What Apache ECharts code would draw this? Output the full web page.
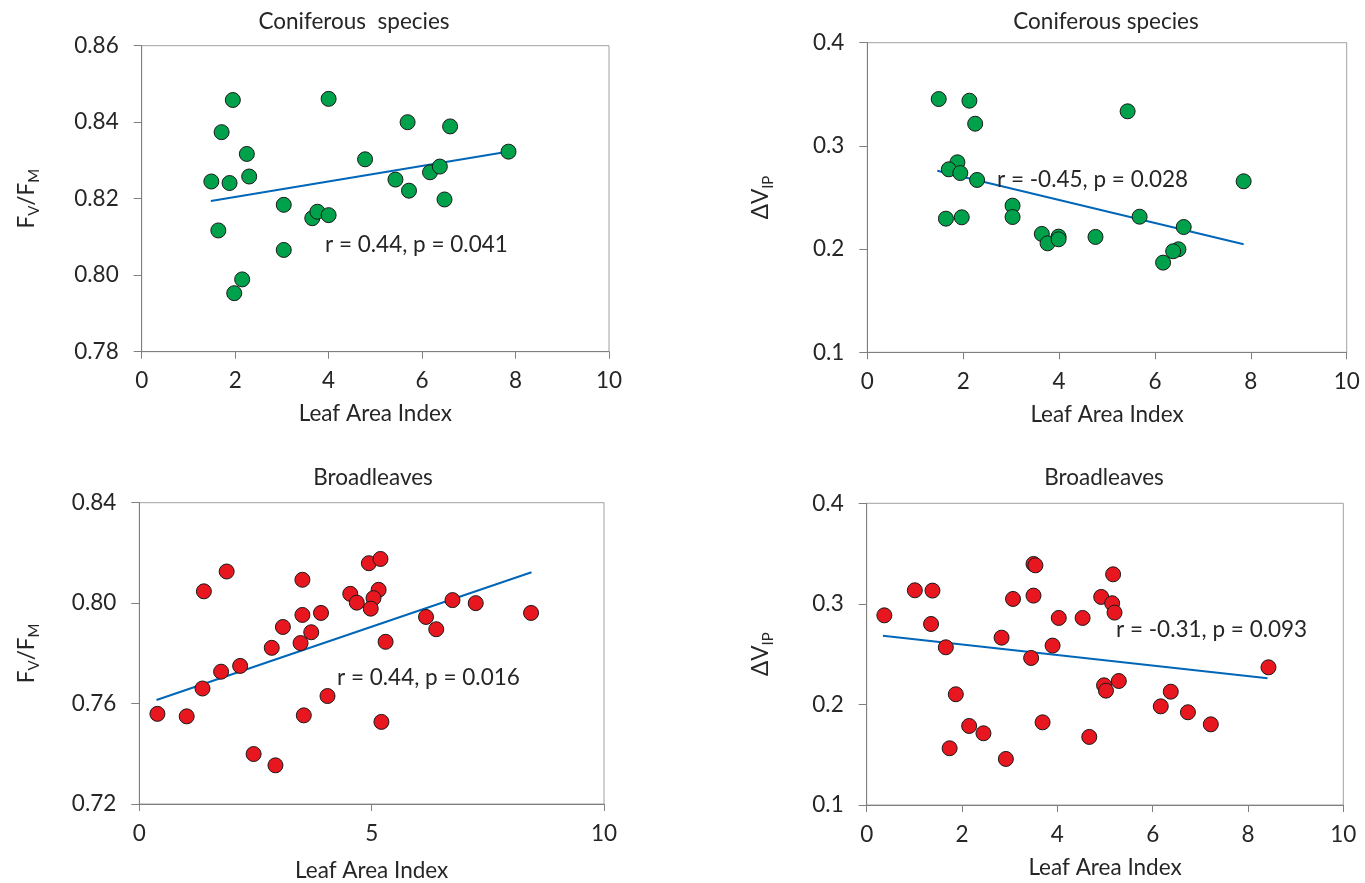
<!DOCTYPE html>
<html>
<head>
<meta charset="utf-8">
<style>
  html, body { margin: 0; padding: 0; background: #fff; }
  #chart { width: 1365px; height: 883px; }
</style>
<script src="https://cdn.jsdelivr.net/npm/echarts@6/dist/echarts.min.js"></script>
</head>
<body>
<div id="chart"></div>
<script>
// ---- Data ----
// Coniferous species: Fv/Fm vs LAI
const conFvLai = [1.49,1.88,1.95,1.71,2.25,2.30,1.64,2.15,1.98,3.04,3.04,4.00,3.65,3.76,4.00,4.78,5.43,5.69,5.72,6.17,6.38,6.60,6.48,7.85];
const conFv    = [0.8245,0.8241,0.8458,0.8374,0.8317,0.8258,0.8117,0.7989,0.7953,0.8184,0.8066,0.8461,0.8149,0.8166,0.8157,0.8303,0.8250,0.8400,0.8221,0.8269,0.8284,0.8389,0.8198,0.8323];
const conFvTrendX = [1.48, 7.73];
const conFvTrendY = [0.8194, 0.8321];

// Coniferous species: ΔVIP vs LAI
const conDvLai = [1.49,2.13,2.25,5.43,1.88,1.70,1.94,2.29,7.85,3.03,3.03,1.64,1.97,3.64,3.76,3.99,3.99,4.76,5.68,6.60,6.17,6.49,6.38];
const conDv    = [0.3454,0.3438,0.3215,0.3335,0.2841,0.2773,0.2737,0.2670,0.2657,0.2421,0.2311,0.2295,0.2308,0.2147,0.2056,0.2121,0.2095,0.2118,0.2314,0.2214,0.1869,0.1998,0.1979];
const conDvTrendX = [1.46, 7.85];
const conDvTrendY = [0.2760, 0.2047];

// Broadleaves: Fv/Fm vs LAI
const brFvLai = [0.39,1.02,1.39,1.88,1.36,1.76,2.17,2.46,2.93,2.85,3.09,3.51,3.51,3.47,3.54,3.70,3.91,4.05,4.54,4.68,4.94,5.19,5.15,5.04,4.98,5.30,5.21,6.17,6.39,6.74,7.24,8.43];
const brFv    = [0.7559,0.7549,0.8047,0.8126,0.7660,0.7727,0.7750,0.7399,0.7354,0.7822,0.7905,0.8093,0.7953,0.7841,0.7553,0.7884,0.7961,0.7630,0.8037,0.8002,0.8159,0.8176,0.8053,0.8020,0.7978,0.7846,0.7527,0.7945,0.7896,0.8012,0.8000,0.7961];
const brFvTrendX = [0.37, 8.44];
const brFvTrendY = [0.7614, 0.8123];

// Broadleaves: ΔVIP vs LAI
const brDvLai = [0.37,1.01,1.38,1.35,1.66,1.87,1.74,2.15,2.45,2.92,2.83,3.07,3.50,3.54,3.50,3.45,3.69,3.90,4.03,4.53,4.67,4.92,5.17,5.15,5.20,4.98,5.02,5.29,6.17,6.38,6.74,7.22,8.43];
const brDv    = [0.2886,0.3135,0.3132,0.2800,0.2568,0.2101,0.1564,0.1786,0.1713,0.1458,0.2664,0.3049,0.3397,0.3383,0.3082,0.2462,0.1822,0.2585,0.2860,0.2860,0.1677,0.3069,0.3294,0.3006,0.2913,0.2190,0.2137,0.2233,0.1981,0.2127,0.1922,0.1802,0.2369];
const brDvTrendX = [0.34, 8.41];
const brDvTrendY = [0.2684, 0.2260];

// Text
const panelTitles = ['Coniferous  species', 'Coniferous species', 'Broadleaves', 'Broadleaves'];
const statTexts = ['r = 0.44, p = 0.041', 'r = -0.45, p = 0.028', 'r = 0.44, p = 0.016', 'r = -0.31, p = 0.093'];
const xName = 'Leaf Area Index';

// ---- Chart ----
const FONT = 'Lato, "Open Sans", sans-serif';
const FS = 22.5;
const TXT = '#262626';
const GREEN = '#00A14B';
const RED = '#E8161E';
const BLUE = '#0066B8';
const AXIS = '#7f7f7f';

function zip(a, b) { return a.map((v, i) => [v, b[i]]); }

const grids = [
  { left: 141.7, top: 45.7, width: 467.3, height: 306 },
  { left: 867.3, top: 42.7, width: 479.4, height: 309.6 },
  { left: 139.3, top: 502.7, width: 464.7, height: 303.3 },
  { left: 866.7, top: 503.3, width: 476.6, height: 301.7 }
].map(g => Object.assign(g, { show: true, borderColor: '#a0a0a0', borderWidth: 1, containLabel: false }));

function xAxis(idx, interval, gap) {
  return {
    type: 'value', gridIndex: idx, min: 0, max: 10, interval: interval,
    name: xName, nameLocation: 'middle', nameGap: gap,
    nameTextStyle: { fontFamily: FONT, fontSize: FS, color: TXT },
    axisLine: { show: true, lineStyle: { color: AXIS, width: 1 } },
    axisTick: { show: true, inside: false, length: 7, lineStyle: { color: AXIS } },
    axisLabel: { fontFamily: FONT, fontSize: FS, color: TXT, margin: 18 },
    splitLine: { show: false }
  };
}

const richName = {
  n: { fontFamily: FONT, fontSize: FS, color: TXT },
  s: { fontFamily: FONT, fontSize: 15, color: TXT, verticalAlign: 'bottom', padding: [15, 0, 0, 0] }
};

function yAxis(idx, min, max, interval, dec, name, gap) {
  return {
    type: 'value', gridIndex: idx, min: min, max: max, interval: interval,
    name: name, nameLocation: 'middle', nameRotate: 90, nameGap: gap,
    nameTextStyle: { fontFamily: FONT, fontSize: FS, color: TXT, rich: richName },
    axisLine: { show: true, lineStyle: { color: AXIS, width: 1 } },
    axisTick: { show: true, inside: false, length: 8, lineStyle: { color: AXIS } },
    axisLabel: { fontFamily: FONT, fontSize: FS, color: TXT, margin: 23,
      formatter: v => Number(v).toFixed(dec) },
    splitLine: { show: false }
  };
}

function scatter(idx, xs, ys, color) {
  return {
    type: 'scatter', xAxisIndex: idx, yAxisIndex: idx,
    data: zip(xs, ys), symbol: 'circle', symbolSize: 15,
    itemStyle: { color: color, borderColor: '#1a1a1a', borderWidth: 1, opacity: 1 },
    z: 3, silent: true
  };
}
function trend(idx, xs, ys) {
  return {
    type: 'line', xAxisIndex: idx, yAxisIndex: idx,
    data: zip(xs, ys), symbol: 'none', showSymbol: false,
    lineStyle: { color: BLUE, width: 2 }, z: 2, silent: true, animation: false
  };
}

const fvName = '{n|F}{s|V}{n|/F}{s|M}';
const dvName = '{n|ΔV}{s|IP}';

function txt(x, y, s, align) {
  return {
    type: 'text', x: x, y: y, z: 10, silent: true,
    style: { text: s, font: FS + 'px ' + FONT, fill: TXT,
      align: align, textAlign: align, verticalAlign: 'middle', textVerticalAlign: 'middle' }
  };
}

const option = {
  backgroundColor: '#fff',
  animation: false,
  grid: grids,
  xAxis: [xAxis(0, 2, 51), xAxis(1, 2, 51), xAxis(2, 5, 55), xAxis(3, 2, 51)],
  yAxis: [
    yAxis(0, 0.78, 0.86, 0.02, 2, fvName, 100),
    yAxis(1, 0.1, 0.4, 0.1, 1, dvName, 92),
    yAxis(2, 0.72, 0.84, 0.04, 2, fvName, 98),
    yAxis(3, 0.1, 0.4, 0.1, 1, dvName, 91)
  ],
  series: [
    trend(0, conFvTrendX, conFvTrendY), scatter(0, conFvLai, conFv, GREEN),
    trend(1, conDvTrendX, conDvTrendY), scatter(1, conDvLai, conDv, GREEN),
    trend(2, brFvTrendX, brFvTrendY), scatter(2, brFvLai, brFv, RED),
    trend(3, brDvTrendX, brDvTrendY), scatter(3, brDvLai, brDv, RED)
  ],
  graphic: [
    txt(354, 22, panelTitles[0], 'center'),
    txt(1106, 22, panelTitles[1], 'center'),
    txt(373, 478, panelTitles[2], 'center'),
    txt(1104, 478, panelTitles[3], 'center'),
    txt(325, 245, statTexts[0], 'left'),
    txt(997, 180, statTexts[1], 'left'),
    txt(337, 678, statTexts[2], 'left'),
    txt(1116, 630, statTexts[3], 'left')
  ]
};

const chart = echarts.init(document.getElementById('chart'), null, { renderer: 'canvas' });
chart.setOption(option);
</script>
</body>
</html>
